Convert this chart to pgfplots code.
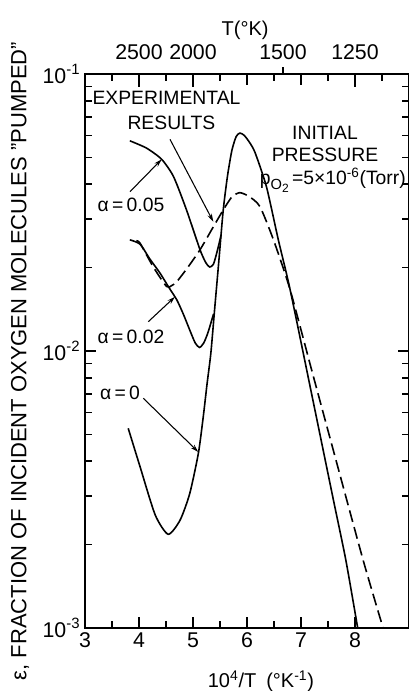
\documentclass[border=0pt]{standalone}
\usepackage{fontspec}
\setmainfont{Liberation Sans}
\usepackage{pgfplots}
\pgfplotsset{compat=1.18}
\usetikzlibrary{arrows.meta}

% alpha = 0 (solid, full curve)
\pgfplotstableread{
x y
3.80 5.26e-3
4.02 3.82e-3
4.30 2.56e-3
4.54 2.18e-3
4.76 2.45e-3
4.94 3.06e-3
5.10 4.28e-3
5.19 5.79e-3
5.26 7.6e-3
5.33 9.8e-3
5.40 1.41e-2
5.48 2.13e-2
5.56 3.23e-2
5.64 4.3e-2
5.72 5.3e-2
5.80 5.95e-2
5.87 6.12e-2
5.95 6.0e-2
6.05 5.65e-2
6.15 5.2e-2
6.36 3.92e-2
6.58 2.52e-2
6.80 1.66e-2
7.20 6.95e-3
7.60 2.9e-3
7.83 1.76e-3
8.05 1.0e-3
}\alphazero

% alpha = 0.02 (solid branch)
\pgfplotstableread{
x y
3.83 2.52e-2
4.02 2.43e-2
4.20 2.15e-2
4.39 1.91e-2
4.55 1.70e-2
4.70 1.53e-2
4.82 1.36e-2
4.94 1.19e-2
5.04 1.07e-2
5.12 1.03e-2
5.20 1.07e-2
5.28 1.17e-2
5.38 1.36e-2
}\alphatwo

% alpha = 0.05 (solid branch)
\pgfplotstableread{
x y
3.83 5.74e-2
4.14 5.40e-2
4.42 4.92e-2
4.64 4.26e-2
4.88 3.23e-2
5.13 2.32e-2
5.24 2.08e-2
5.31 2.01e-2
5.38 2.06e-2
5.45 2.30e-2
5.52 2.62e-2
}\alphafive

% experimental results (dashed)
\pgfplotstableread{
x y
3.95 2.50e-2
4.02 2.45e-2
4.265 2.01e-2
4.51 1.71e-2
4.60 1.72e-2
4.70 1.78e-2
4.90 2.0e-2
5.13 2.32e-2
5.35 2.75e-2
5.56 3.23e-2
5.72 3.6e-2
5.87 3.73e-2
6.05 3.6e-2
6.24 3.32e-2
6.49 2.52e-2
6.80 1.66e-2
7.20 8.5e-3
7.60 4.37e-3
8.15 1.76e-3
8.52 1.0e-3
}\experiment

\begin{document}
\begin{tikzpicture}
\begin{axis}[
  name=main,
  width=243pt, height=415.5pt, scale only axis,
  xmin=3, xmax=9, ymode=log, ymin=1e-3, ymax=1e-1,
  tick label style={font=\fontsize{16}{18}\selectfont},
  /pgf/number format/assume math mode=true,
  xtick={3,4,5,6,7,8},
  minor x tick num=1,
  every major tick/.append style={major tick length=8pt, line width=1.2pt, black},
  every minor tick/.append style={minor tick length=5pt, line width=1.2pt, black},
  axis line style={line width=1.1pt},
  ytick={1e-3,1e-2,1e-1},
  yticklabels={10\textsuperscript{-3},10\textsuperscript{-2},10\textsuperscript{-1}},
  clip=false,
]
\addplot[black, line width=1.2pt, smooth, tension=0.4] table {\alphazero};
\addplot[black, line width=1.2pt, smooth, tension=0.4] table {\alphatwo};
\addplot[black, line width=1.2pt, smooth, tension=0.4] table {\alphafive};
\addplot[black, line width=1.2pt, smooth, tension=0.4, dash pattern=on 9pt off 4pt] table {\experiment};

% tick marks along the frame
\pgfplotsinvokeforeach{4,5,6,7,8}{\draw[line width=1.2pt] (axis cs:#1,1e-3) -- ++(0pt,8pt);}
\pgfplotsinvokeforeach{3.5,4.5,5.5,6.5,7.5}{\draw[line width=1.2pt] (axis cs:#1,1e-3) -- ++(0pt,5pt);}
\pgfplotsinvokeforeach{4,5,8}{\draw[line width=1.2pt] (axis cs:#1,1e-1) -- ++(0pt,-10pt);}
\pgfplotsinvokeforeach{3.5,4.5,5.5,6,6.5,7,7.5,8.5}{\draw[line width=1.2pt] (axis cs:#1,1e-1) -- ++(0pt,-5pt);}
\draw[line width=1.2pt] (axis cs:6.6667,1e-1) -- ++(0pt,5pt);
\draw[line width=1.2pt] (axis cs:3,1e-2) -- ++(8pt,0pt);
\draw[line width=1.2pt] (axis cs:9,1e-2) -- ++(-8pt,0pt);

\begin{scope}[font=\fontsize{14.5}{16}\selectfont]
\node at (axis cs:4.509,0.0819) {EXPERIMENTAL};
\node at (axis cs:4.60,0.0665) {RESULTS};
\node at (axis cs:3.852,0.0337) {α\,=\,0.05};
\node at (axis cs:3.852,0.01127) {α\,=\,0.02};
\node at (axis cs:3.648,0.00705) {α\,=\,0};
\node at (axis cs:7.444,0.0612) {INITIAL};
\node at (axis cs:7.444,0.0511) {PRESSURE};
\node at (axis cs:7.59,0.0414) {p\raisebox{-0.45ex}{\fontsize{11}{12}\selectfont O\raisebox{-0.4ex}{\fontsize{9}{10}\selectfont 2}}\,=5×10\textsuperscript{-6}(Torr)};
\end{scope}

\begin{scope}[line width=0.8pt, -{Stealth[length=6pt,width=3.5pt]}]
\draw (axis cs:4.574,0.0581) -- (axis cs:5.376,0.0293);
\draw (axis cs:3.833,0.0376) -- (axis cs:4.42,0.0492);
\draw (axis cs:4.172,0.01276) -- (axis cs:4.667,0.0157);
\draw (axis cs:4.08,0.00675) -- (axis cs:5.098,0.00432);
\end{scope}

\node[font=\fontsize{15}{16}\selectfont] at (axis description cs:0.494,1.078) {T(°K)};
\node[font=\fontsize{15}{16}\selectfont] at (axis description cs:0.543,-0.0957) {10\textsuperscript{4}/T\enspace(°K\textsuperscript{-1})};
\node[font=\fontsize{16.5}{18}\selectfont, rotate=90] at (axis description cs:-0.2006,0.482) {ε, FRACTION OF INCIDENT OXYGEN MOLECULES "PUMPED"};
\end{axis}

\begin{axis}[
  width=243pt, height=415.5pt, scale only axis,
  xmin=3, xmax=9, ymin=0, ymax=1,
  tick label style={font=\fontsize{16}{18}\selectfont},
  hide y axis,
  axis line style={draw=none},
  xtick pos=upper, xticklabel pos=upper,
  xtick={4,5,6.6667,8}, xticklabels={2500,2000,1500,1250},
  major tick length=0pt,
  xticklabel style={yshift=7pt},
]
\end{axis}

\pgfresetboundingbox
\path[use as bounding box] ([xshift=-63.75pt,yshift=-47.25pt]main.south west) rectangle ([yshift=55.5pt]main.north east);
\end{tikzpicture}
\end{document}
